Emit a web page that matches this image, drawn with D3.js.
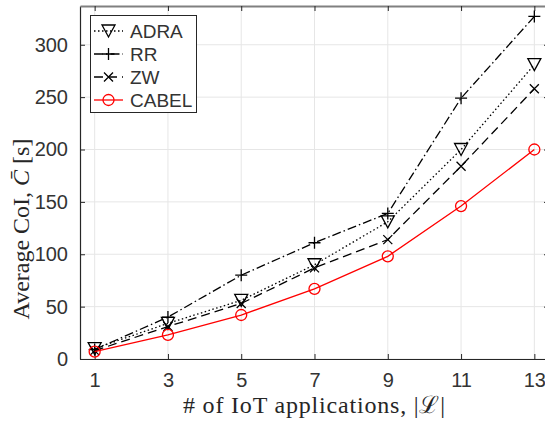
<!DOCTYPE html>
<html>
<head>
<meta charset="utf-8">
<script src="https://cdn.jsdelivr.net/npm/d3@7"></script>
<style>
  body { margin: 0; background: #fff; }
  svg { display: block; }
</style>
</head>
<body>
<svg id="chart" width="545" height="425"></svg>
<script>
// Number of IoT applications on the x axis
const apps = [1, 3, 5, 7, 9, 11, 13];
// Average CoI (seconds) per scheme
const adra  = [10, 34, 56, 90, 131, 200, 281];
const rr    = [9, 40, 80, 111, 139, 249, 327];
const zw    = [8, 31, 53, 87, 114, 184, 258];
const cabel = [7, 23, 42, 67, 98, 146, 200];
const xTicks = [1, 3, 5, 7, 9, 11, 13];
const yTicks = [0, 50, 100, 150, 200, 250, 300];

const svg = d3.select("#chart");
const plotLeft = 80, plotRight = 549, plotTop = 6, plotBottom = 359;

const x = d3.scaleLinear().domain([0.6, 13.4]).range([plotLeft, plotRight]);
const y = d3.scaleLinear().domain([0, 337]).range([plotBottom, plotTop]);

const axisColor = "#262626";
const tickFont = "'Liberation Sans', Arial, sans-serif";
const labelFont = "'Liberation Serif', 'DejaVu Serif', serif";

// grid
const grid = svg.append("g");
grid.selectAll(".gx").data(xTicks).join("line")
  .attr("x1", d => x(d)).attr("x2", d => x(d))
  .attr("y1", plotTop).attr("y2", plotBottom)
  .attr("stroke", "#e6e6e6").attr("stroke-width", 1);
grid.selectAll(".gy").data(yTicks).join("line")
  .attr("y1", d => y(d)).attr("y2", d => y(d))
  .attr("x1", plotLeft).attr("x2", plotRight)
  .attr("stroke", "#e6e6e6").attr("stroke-width", 1);

// axes with inward ticks
const xAxis = d3.axisBottom(x).tickValues(xTicks).tickSizeInner(-5).tickSizeOuter(0).tickPadding(14);
const yAxis = d3.axisLeft(y).tickValues(yTicks).tickSizeInner(-5).tickSizeOuter(0).tickPadding(12);

const gx = svg.append("g").attr("transform", `translate(0,${plotBottom})`).call(xAxis);
const gy = svg.append("g").attr("transform", `translate(${plotLeft},0)`).call(yAxis);
[gx, gy].forEach(g => {
  g.select(".domain").attr("stroke", axisColor).attr("stroke-width", 1.2);
  g.selectAll(".tick line").attr("stroke", axisColor);
  g.selectAll(".tick text").attr("fill", "#333")
    .style("font-family", tickFont).style("font-size", "20px");
});

// top and right box with inward ticks
const gt = svg.append("g").attr("transform", `translate(0,${plotTop})`)
  .call(d3.axisTop(x).tickValues(xTicks).tickSizeInner(-5).tickSizeOuter(0).tickFormat(""));
const gr = svg.append("g").attr("transform", `translate(${plotRight},0)`)
  .call(d3.axisRight(y).tickValues(yTicks).tickSizeInner(-5).tickSizeOuter(0).tickFormat(""));
gt.select(".domain").attr("stroke", "#808080").attr("stroke-width", 2);
gr.select(".domain").attr("stroke", axisColor);
[gt, gr].forEach(g => g.selectAll(".tick line").attr("stroke", axisColor));

// series
const series = [
  { name: "ADRA",  values: adra,  color: "#000", dash: "1.5,2.5",       marker: "tri" },
  { name: "RR",    values: rr,    color: "#000", dash: "9,3,1.5,3",     marker: "plus" },
  { name: "ZW",    values: zw,    color: "#000", dash: "9,5",           marker: "cross" },
  { name: "CABEL", values: cabel, color: "#ff0000", dash: null,         marker: "circle" }
];

const line = d3.line().x(d => x(d[0])).y(d => y(d[1]));

function drawMarker(g, type, cx, cy, color) {
  if (type === "tri") {
    g.append("path").attr("d", `M${cx-6.5},${cy-6} L${cx+6.5},${cy-6} L${cx},${cy+6} Z`)
      .attr("fill", "none").attr("stroke", color).attr("stroke-width", 1.3);
  } else if (type === "plus") {
    g.append("path").attr("d", `M${cx-6},${cy} L${cx+6},${cy} M${cx},${cy-6} L${cx},${cy+6}`)
      .attr("stroke", color).attr("stroke-width", 1.3);
  } else if (type === "cross") {
    g.append("path").attr("d", `M${cx-4.5},${cy-4.5} L${cx+4.5},${cy+4.5} M${cx-4.5},${cy+4.5} L${cx+4.5},${cy-4.5}`)
      .attr("stroke", color).attr("stroke-width", 1.3);
  } else if (type === "circle") {
    g.append("circle").attr("cx", cx).attr("cy", cy).attr("r", 5.5)
      .attr("fill", "none").attr("stroke", color).attr("stroke-width", 1.3);
  }
}

series.forEach(s => {
  const pts = apps.map((a, i) => [a, s.values[i]]);
  const g = svg.append("g");
  g.append("path").datum(pts).attr("d", line)
    .attr("fill", "none").attr("stroke", s.color).attr("stroke-width", 1.3)
    .attr("stroke-dasharray", s.dash);
  pts.forEach(p => drawMarker(g, s.marker, x(p[0]), y(p[1]), s.color));
});

// legend
const lg = svg.append("g");
lg.append("rect").attr("x", 90.5).attr("y", 15.5).attr("width", 106).attr("height", 97)
  .attr("fill", "#fff").attr("stroke", axisColor).attr("stroke-width", 1);
series.forEach((s, i) => {
  const ly = 31 + i * 23;
  lg.append("line").attr("x1", 94).attr("x2", 123).attr("y1", ly).attr("y2", ly)
    .attr("stroke", s.color).attr("stroke-width", 1.3).attr("stroke-dasharray", s.dash);
  drawMarker(lg, s.marker, 108.5, ly, s.color);
  lg.append("text").attr("x", 130).attr("y", ly + 7).text(s.name)
    .attr("fill", "#333").style("font-family", tickFont).style("font-size", "19px");
});

// axis titles
svg.append("text").attr("x", 314).attr("y", 413).attr("text-anchor", "middle")
  .attr("fill", axisColor).style("font-family", labelFont).style("font-size", "24px")
  .attr("textLength", 262).attr("lengthAdjust", "spacing")
  .text("# of IoT applications, |ℒ|");

const yl = svg.append("text").attr("transform", "translate(29,229) rotate(-90)")
  .attr("text-anchor", "middle").attr("fill", axisColor)
  .style("font-family", labelFont).style("font-size", "24px");
yl.append("tspan").text("Average CoI, ");
yl.append("tspan").style("font-style", "italic").text("C̄");
yl.append("tspan").text(" [s]");
</script>
</body>
</html>
